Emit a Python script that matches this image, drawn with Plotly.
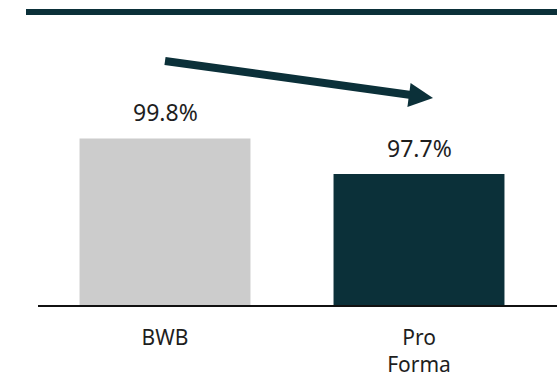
import plotly.graph_objects as go

categories = ["BWB", "Pro<br>Forma"]
values = [99.8, 97.7]
labels = ["99.8%", "97.7%"]
colors = ["#cccccc", "#0b3039"]

W, H = 557, 381
L, R, T, B = 38, 0, 0, 76
pw, ph = W - L - R, H - T - B

def px(x):
    return (x - L) / pw

def py(y):
    return (H - B - y) / ph

fig = go.Figure()
fig.add_trace(go.Bar(
    x=[0, 1], y=values, marker=dict(color=colors, line=dict(width=0)),
    width=0.673,
))

for i, (v, t) in enumerate(zip(values, labels)):
    fig.add_annotation(x=i, y=v, text=t, showarrow=False, yanchor="bottom",
                       yshift=8, font=dict(size=23, color="#1e1e1e", family="Noto Sans"))

# decorative top rule
fig.add_shape(type="line", xref="paper", yref="paper",
              x0=px(26), x1=px(557), y0=py(12), y1=py(12),
              line=dict(color="#0b3039", width=6))
# arrow shaft
fig.add_shape(type="line", xref="paper", yref="paper",
              x0=px(165), y0=py(61), x1=px(411), y1=py(95),
              line=dict(color="#0b3039", width=8))
# arrow head
fig.add_shape(type="path", xref="paper", yref="paper",
              path=f"M {px(433)},{py(98)} L {px(407.4)},{py(107)} L {px(410.6)},{py(83)} Z",
              fillcolor="#0b3039", line=dict(width=0))

scale = 17.0
fig.update_layout(
    width=W, height=H, margin=dict(l=L, r=R, t=T, b=B, autoexpand=False),
    paper_bgcolor="white", plot_bgcolor="white", showlegend=False,
    xaxis=dict(range=[-0.5, -0.5 + pw / 254], tickvals=[0, 1], ticktext=categories,
               showline=True, linecolor="#111111", linewidth=1.5, showgrid=False,
               zeroline=False, ticks="", ticklabelstandoff=13, automargin=False,
               tickfont=dict(size=21, color="#1e1e1e", family="Noto Sans")),
    yaxis=dict(range=[90, 90 + ph / scale], visible=False, showgrid=False,
               automargin=False),
    font=dict(family="Noto Sans"),
)
fig.write_html("out.html")
